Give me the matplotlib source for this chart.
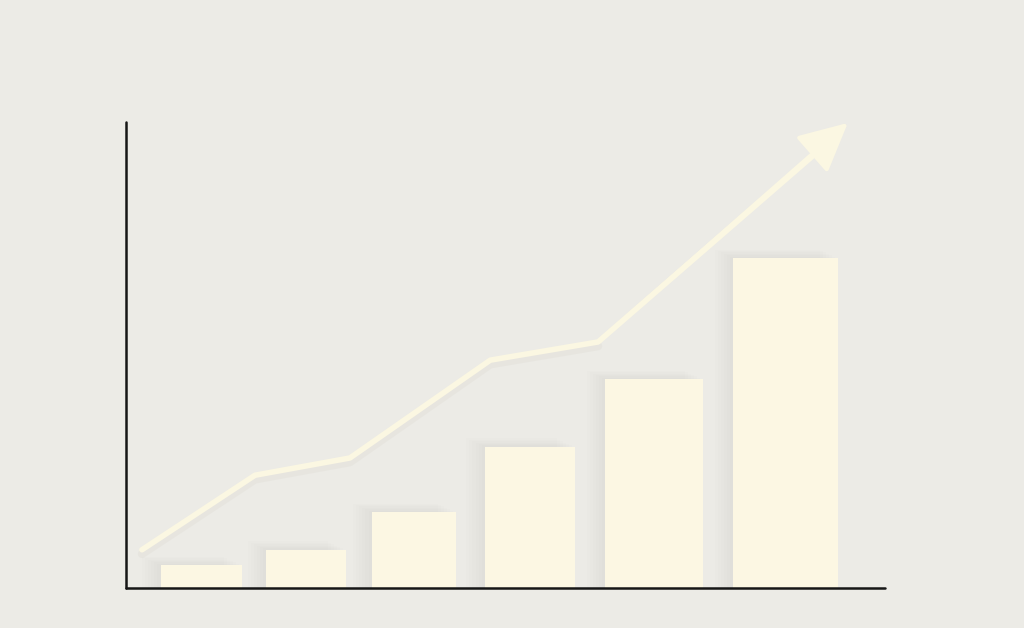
import matplotlib.pyplot as plt

# bar data (x centre, width, height), axis spans x 0-10 and y 0-100
bar_x = [0.99, 2.37, 3.79, 5.32, 6.96, 8.69]
bar_w = [1.07, 1.05, 1.11, 1.19, 1.29, 1.38]
bar_h = [4.9, 8.2, 16.3, 30.3, 44.8, 70.8]

# trend line with arrow at the end
line_x = [0.21, 1.70, 2.95, 4.80, 6.22, 9.51]
line_y = [8.2, 24.2, 27.9, 48.9, 52.8, 99.8]

bg = '#ECEBE6'
cream = '#FCF7E3'
line_col = '#FBF7E2'

fig = plt.figure(figsize=(10.24, 6.28), dpi=100, facecolor=bg)
ax = fig.add_axes([126 / 1024, 40 / 628, 759 / 1024, 466 / 628])
ax.set_facecolor(bg)
ax.set_xlim(0, 10)
ax.set_ylim(0, 100)

# soft shadows behind bars (several faint layers)
for i in range(1, 7):
    ax.bar([x - 0.04 * i for x in bar_x], [h + 0.3 * i for h in bar_h],
           width=bar_w, color='#9a9484', alpha=0.018, linewidth=0, zorder=1)

ax.bar(bar_x, bar_h, width=bar_w, color=cream, linewidth=0, zorder=2)

# faint shadow under the line
ax.plot(line_x[:-1], [y - 0.9 for y in line_y[:-1]], color='#9a957f',
        alpha=0.06, lw=6, solid_capstyle='round', zorder=2.5)
ax.plot(line_x[:-1] + [line_x[-1] - 0.35], line_y[:-1] + [line_y[-1] - 5.5],
        color=line_col, lw=4, solid_capstyle='round', solid_joinstyle='round',
        zorder=3)
ax.annotate('', xy=(line_x[-1], line_y[-1]), xytext=(line_x[-2], line_y[-2]),
            arrowprops=dict(arrowstyle='-|>,head_length=3.0,head_width=1.5',
                            color=line_col, lw=3, shrinkA=0, shrinkB=0),
            zorder=3)

for s in ['top', 'right']:
    ax.spines[s].set_visible(False)
for s in ['left', 'bottom']:
    ax.spines[s].set_color('#161616')
    ax.spines[s].set_linewidth(1.8)
    ax.spines[s].set_capstyle('round')
ax.set_xticks([])
ax.set_yticks([])

fig.savefig('out.png', dpi=100, facecolor=bg)
